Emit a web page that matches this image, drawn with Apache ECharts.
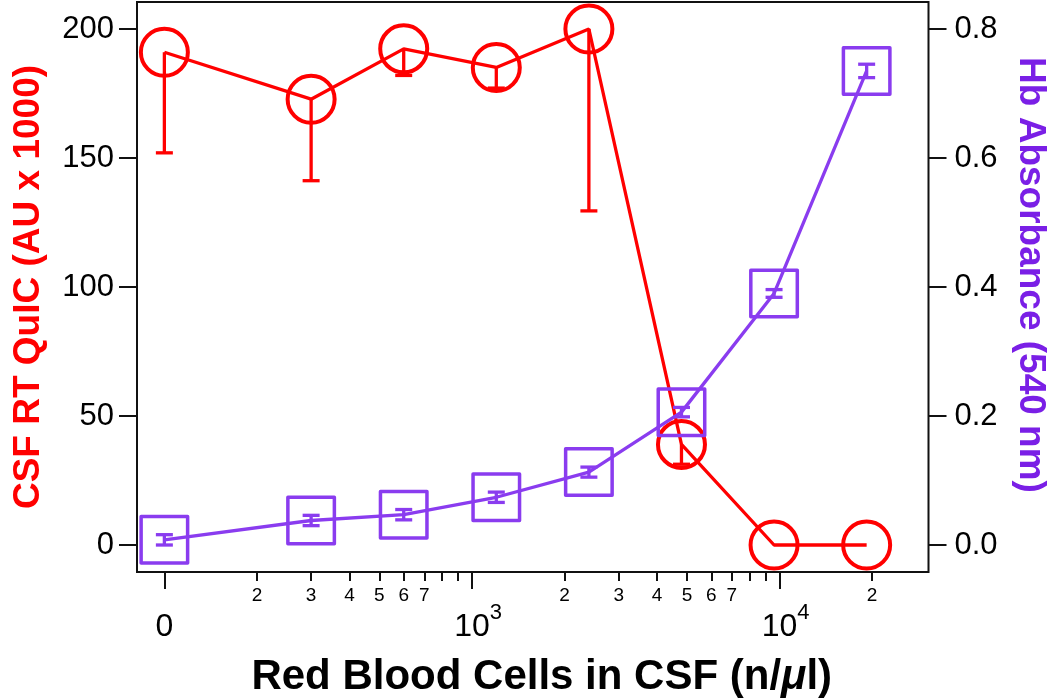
<!DOCTYPE html>
<html>
<head>
<meta charset="utf-8">
<script src="https://cdn.jsdelivr.net/npm/echarts@6/dist/echarts.min.js"></script>
<style>
  html, body { margin: 0; padding: 0; background: #fff; }
  #chart { width: 1050px; height: 698px; }
</style>
</head>
<body>
<div id="chart"></div>
<script>
// Red blood cells per µl. The "0 cells" sample is drawn at the 10^2 position, which the axis labels "0".
var cells = [100, 300, 600, 1200, 2400, 4800, 9600, 19200];
// CSF RT QuIC signal (AU x 1000), left axis, with one-sided (downward) error
var quic = [191, 172.8, 192.3, 185.1, 200, 39, 0, 0];
var quicErrDown = [39, 31.6, 10.3, 8, 70.5, 7.7, 0, 0];
// Hb absorbance at 540 nm, right axis, with symmetric error
var hb = [0.008, 0.038, 0.047, 0.074, 0.113, 0.206, 0.39, 0.735];
var hbErr = [0.008, 0.008, 0.008, 0.008, 0.0078, 0.0073, 0.006, 0.0104];

// axis tick definitions
var majorTicks = [100, 1000, 10000];
var minorTicks = [200, 300, 400, 500, 600, 700, 800, 900, 2000, 3000, 4000, 5000, 6000, 7000, 8000, 9000, 20000];
var minorLabels = [200, 300, 400, 500, 600, 700, 2000, 3000, 4000, 5000, 6000, 7000, 20000];
var leftTicks = [0, 50, 100, 150, 200];
var rightTicks = [0, 0.2, 0.4, 0.6, 0.8];

var RED = '#ff0000';
var PURPLE = '#8a3cef';
var PURPLE_TITLE = '#7a1fe6';
var FONT = "'Liberation Sans', Arial, Helvetica, sans-serif";

var lg = function (v) { return Math.log10(v); };
var xMin = 1.911, xMax = 4.4844;

var quicData = cells.map(function (c, i) { return [lg(c), quic[i]]; });
var hbData = cells.map(function (c, i) { return [lg(c), hb[i]]; });
var quicErrData = cells.map(function (c, i) { return [lg(c), quic[i], quic[i] - quicErrDown[i], quic[i]]; })
  .filter(function (d, i) { return quicErrDown[i] > 0; });
var hbErrData = cells.map(function (c, i) { return [lg(c), hb[i], hb[i] - hbErr[i], hb[i] + hbErr[i]]; });

function errRenderer(color, capLow, capHigh) {
  return function (params, api) {
    var x = api.value(0), lo = api.value(2), hi = api.value(3);
    var pLo = api.coord([x, lo]);
    var pHi = api.coord([x, hi]);
    var hw = 8.5;
    var st = { stroke: color, lineWidth: 3.3 };
    var ch = [{ type: 'line', shape: { x1: pLo[0], y1: pLo[1], x2: pHi[0], y2: pHi[1] }, style: st }];
    if (capLow) ch.push({ type: 'line', shape: { x1: pLo[0] - hw, y1: pLo[1], x2: pLo[0] + hw, y2: pLo[1] }, style: st });
    if (capHigh) ch.push({ type: 'line', shape: { x1: pHi[0] - hw, y1: pHi[1], x2: pHi[0] + hw, y2: pHi[1] }, style: st });
    return { type: 'group', children: ch };
  };
}

var chart = echarts.init(document.getElementById('chart'), null, { renderer: 'canvas' });
chart.setOption({
  animation: false,
  backgroundColor: '#fff',
  textStyle: { fontFamily: FONT },
  grid: {
    left: 137, right: 121.5, top: 2, bottom: 126,
    outerBoundsMode: 'none', containLabel: false,
    show: true, borderColor: '#111', borderWidth: 2, backgroundColor: 'transparent'
  },
  xAxis: [{
    type: 'value', position: 'bottom', min: xMin, max: xMax,
    axisLine: { show: false, onZero: false },
    splitLine: { show: false },
    axisTick: { show: true, length: 17, customValues: majorTicks.map(lg), lineStyle: { color: '#111', width: 2 } },
    axisLabel: {
      customValues: majorTicks.map(lg), margin: 30, color: '#000', fontFamily: FONT,
      formatter: function (v) {
        var e = Math.round(v);
        if (e === 2) return '{z|0}';
        return '{s|\u00a0\u00a0}{b|10}{s|' + e + '}';
      },
      rich: {
        z: { fontSize: 32, fontFamily: FONT, color: '#000', lineHeight: 41, verticalAlign: 'bottom' },
        b: { fontSize: 32, fontFamily: FONT, color: '#000', lineHeight: 41, verticalAlign: 'bottom' },
        s: { fontSize: 22, fontFamily: FONT, color: '#000', lineHeight: 26, verticalAlign: 'top' }
      }
    },
    name: 'Red Blood Cells in CSF (n/{i|μ}l)', nameLocation: 'middle', nameGap: 84,
    nameTextStyle: {
      fontSize: 42, fontWeight: 'bold', color: '#000', fontFamily: FONT, padding: [0, 0, 0, 18],
      rich: { i: { fontSize: 42, fontWeight: 'bold', fontStyle: 'italic', color: '#000', fontFamily: FONT } }
    }
  }, {
    type: 'value', position: 'bottom', min: xMin, max: xMax,
    axisLine: { show: false, onZero: false },
    splitLine: { show: false },
    axisTick: { show: true, length: 9, customValues: minorTicks.map(lg), lineStyle: { color: '#111', width: 2 } },
    axisLabel: {
      customValues: minorLabels.map(lg), margin: 14, fontSize: 19, color: '#000', fontFamily: FONT,
      formatter: function (v) {
        var n = Math.round(Math.pow(10, v));
        return String(n).charAt(0);
      }
    }
  }],
  yAxis: [{
    type: 'value', position: 'left', min: -10.465, max: 210.465,
    axisLine: { show: false },
    splitLine: { show: false },
    axisTick: { show: true, length: 18, customValues: leftTicks, lineStyle: { color: '#111', width: 2 } },
    axisLabel: { customValues: leftTicks, margin: 23, fontSize: 31, color: '#000', fontFamily: FONT },
    name: 'CSF RT QuIC (AU x 1000)', nameLocation: 'middle', nameGap: 90, nameRotate: 90,
    nameTextStyle: { fontSize: 37, fontWeight: 'bold', color: RED, fontFamily: FONT }
  }, {
    type: 'value', position: 'right', min: -0.04186, max: 0.84186,
    axisLine: { show: false },
    splitLine: { show: false },
    axisTick: { show: true, length: 18, customValues: rightTicks, lineStyle: { color: '#111', width: 2 } },
    axisLabel: {
      customValues: rightTicks, margin: 26, fontSize: 31, color: '#000', fontFamily: FONT,
      formatter: function (v) { return v.toFixed(1); }
    },
    name: 'Hb Absorbance (540 nm)', nameLocation: 'middle', nameGap: 83, nameRotate: -90,
    nameTextStyle: { fontSize: 37, fontWeight: 'bold', color: PURPLE_TITLE, fontFamily: FONT, padding: [0, 24, 0, 0] }
  }],
  series: [{
    type: 'line', xAxisIndex: 0, yAxisIndex: 0, data: quicData,
    symbol: 'circle', symbolSize: 47, clip: false,
    lineStyle: { color: RED, width: 3.3 },
    itemStyle: { color: 'rgba(0,0,0,0)', borderColor: RED, borderWidth: 4 },
    z: 2
  }, {
    type: 'custom', xAxisIndex: 0, yAxisIndex: 0, data: quicErrData,
    renderItem: errRenderer(RED, true, false), clip: false, z: 3
  }, {
    type: 'line', xAxisIndex: 0, yAxisIndex: 1, data: hbData,
    symbol: 'rect', symbolSize: 46.5, clip: false,
    lineStyle: { color: PURPLE, width: 3.3 },
    itemStyle: { color: 'rgba(0,0,0,0)', borderColor: PURPLE, borderWidth: 3.5, borderJoin: 'round' },
    z: 4
  }, {
    type: 'custom', xAxisIndex: 0, yAxisIndex: 1, data: hbErrData,
    renderItem: errRenderer(PURPLE, true, true), clip: false, z: 5
  }]
});
</script>
</body>
</html>
